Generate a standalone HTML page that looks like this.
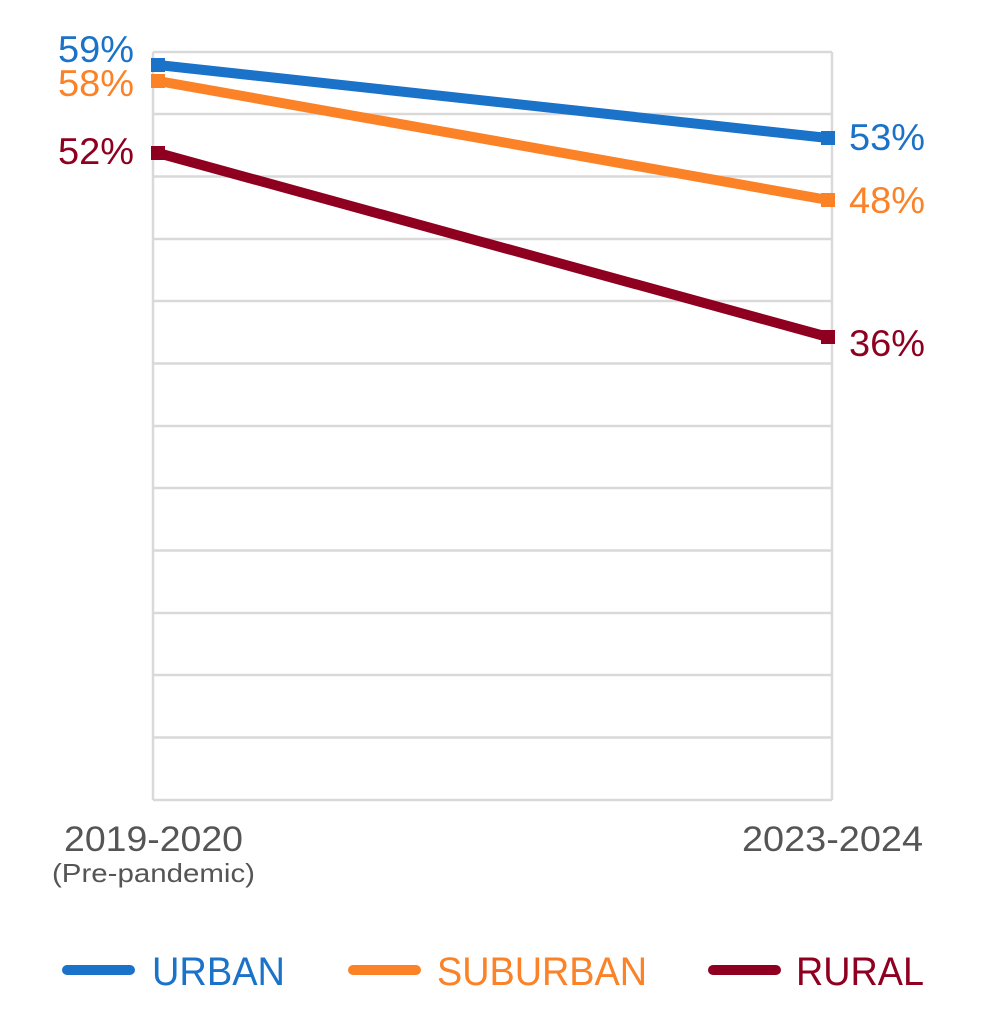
<!DOCTYPE html>
<html><head><meta charset="utf-8"><style>
html,body{margin:0;padding:0;background:#fff;}
svg{display:block;font-family:"Liberation Sans",sans-serif;}
</style></head><body>
<svg width="990" height="1022" viewBox="0 0 990 1022" xmlns="http://www.w3.org/2000/svg">
<g stroke="#d9d9d9" stroke-width="2.5">
<line x1="153" y1="52" x2="832" y2="52"/>
<line x1="153" y1="114" x2="832" y2="114"/>
<line x1="153" y1="176.5" x2="832" y2="176.5"/>
<line x1="153" y1="239" x2="832" y2="239"/>
<line x1="153" y1="301" x2="832" y2="301"/>
<line x1="153" y1="363.5" x2="832" y2="363.5"/>
<line x1="153" y1="426" x2="832" y2="426"/>
<line x1="153" y1="488" x2="832" y2="488"/>
<line x1="153" y1="550.5" x2="832" y2="550.5"/>
<line x1="153" y1="613" x2="832" y2="613"/>
<line x1="153" y1="675" x2="832" y2="675"/>
<line x1="153" y1="737.5" x2="832" y2="737.5"/>
<line x1="153" y1="800" x2="832" y2="800"/>
<line x1="153" y1="52" x2="153" y2="800"/>
<line x1="832" y1="52" x2="832" y2="800"/>
</g>
<g stroke-width="10" fill="none">
<line x1="158" y1="65" x2="828" y2="138" stroke="#1a72c9"/>
<line x1="158" y1="81" x2="828" y2="200" stroke="#fb8227"/>
<line x1="158" y1="153" x2="828" y2="337" stroke="#8f0020"/>
</g>
<rect x="151" y="58" width="14" height="14" fill="#1a72c9"/>
<rect x="151" y="74" width="14" height="14" fill="#fb8227"/>
<rect x="151" y="146" width="14" height="14" fill="#8f0020"/>
<rect x="821" y="131" width="14" height="14" fill="#1a72c9"/>
<rect x="821" y="193" width="14" height="14" fill="#fb8227"/>
<rect x="821" y="330" width="14" height="14" fill="#8f0020"/>
<g font-size="37">
<text x="58" y="62" fill="#1a72c9" textLength="76" lengthAdjust="spacingAndGlyphs">59%</text>
<text x="58" y="96" fill="#fb8227" textLength="76" lengthAdjust="spacingAndGlyphs">58%</text>
<text x="58" y="164" fill="#8f0020" textLength="76" lengthAdjust="spacingAndGlyphs">52%</text>
<text x="849" y="150" fill="#1a72c9" textLength="76" lengthAdjust="spacingAndGlyphs">53%</text>
<text x="849" y="213" fill="#fb8227" textLength="76" lengthAdjust="spacingAndGlyphs">48%</text>
<text x="849" y="356" fill="#8f0020" textLength="76" lengthAdjust="spacingAndGlyphs">36%</text>
</g>
<text x="64" y="851" font-size="35" fill="#555" textLength="179" lengthAdjust="spacingAndGlyphs">2019-2020</text>
<text x="52" y="882" font-size="26" fill="#555" textLength="203" lengthAdjust="spacingAndGlyphs">(Pre-pandemic)</text>
<text x="742" y="851" font-size="35" fill="#555" textLength="181" lengthAdjust="spacingAndGlyphs">2023-2024</text>
<g stroke-width="10" stroke-linecap="round">
<line x1="67" y1="970" x2="130" y2="970" stroke="#1a72c9"/>
<line x1="353" y1="970" x2="416" y2="970" stroke="#fb8227"/>
<line x1="713" y1="970" x2="776" y2="970" stroke="#8f0020"/>
</g>
<g font-size="40">
<text x="152" y="985" fill="#1a72c9" textLength="133" lengthAdjust="spacingAndGlyphs">URBAN</text>
<text x="437" y="985" fill="#fb8227" textLength="210" lengthAdjust="spacingAndGlyphs">SUBURBAN</text>
<text x="796" y="985" fill="#8f0020" textLength="128" lengthAdjust="spacingAndGlyphs">RURAL</text>
</g>
</svg>
</body></html>
